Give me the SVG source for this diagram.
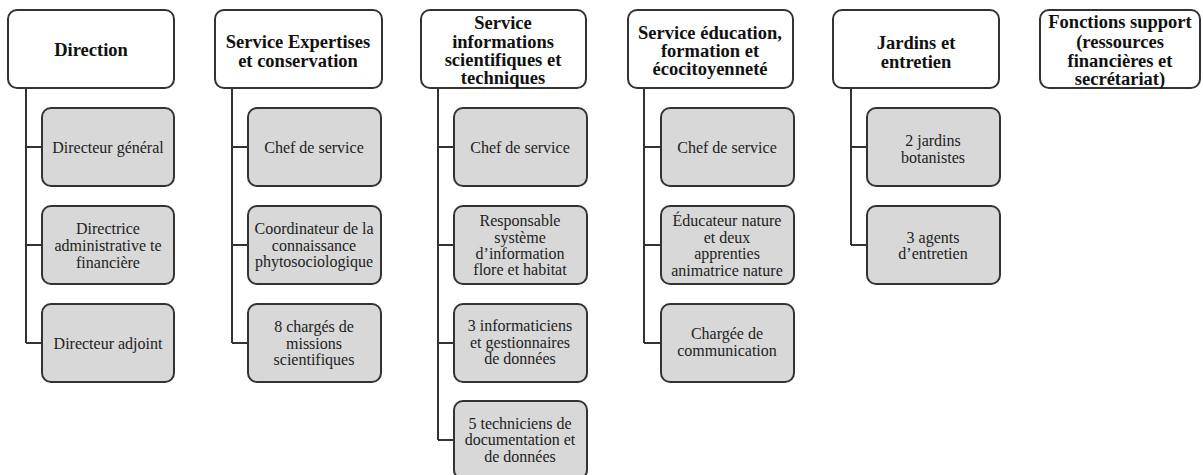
<svg xmlns="http://www.w3.org/2000/svg" width="1203" height="475" viewBox="0 0 1203 475">
<style>
.hd{fill:#fff;stroke:#333;stroke-width:2}
.ch{fill:#d8d8d8;stroke:#333;stroke-width:2}
.ht{font-family:"Liberation Serif","Times New Roman",serif;font-weight:bold;font-size:18.5px;fill:#111;text-anchor:middle}
.ct{font-family:"Liberation Serif","Times New Roman",serif;font-size:16px;fill:#222;text-anchor:middle}
.ln{fill:none;stroke:#333;stroke-width:2}
</style>
<rect width="1203" height="475" fill="#fff"/>
<g id="connectors">
<path class="ln" d="M26,89V343M26,147H42M26,245H42M26,343H42"/>
<path class="ln" d="M232,89V343M232,147H248M232,245H248M232,343H248"/>
<path class="ln" d="M438,89V440M438,147H454M438,245H454M438,343H454M438,440H454"/>
<path class="ln" d="M644,89V343M644,147H661M644,245H661M644,343H661"/>
<path class="ln" d="M851,89V245M851,147H867M851,245H867"/>
</g>
<g id="direction"><rect class="hd" x="8" y="10" width="166" height="78" rx="9"/><text class="ht" x="91" y="56">Direction</text></g>
<g id="dir-dg"><rect class="ch" x="42" y="108" width="132" height="78" rx="9"/><text class="ct" x="108" y="152.5">Directeur général</text></g>
<g id="dir-daf"><rect class="ch" x="42" y="206" width="132" height="78" rx="9"/><text class="ct" x="108" y="233.5">Directrice</text><text class="ct" x="108" y="250.5">administrative te</text><text class="ct" x="108" y="267.5">financière</text></g>
<g id="dir-adj"><rect class="ch" x="42" y="304" width="132" height="78" rx="9"/><text class="ct" x="108" y="348.5">Directeur adjoint</text></g>

<g id="expertises"><rect class="hd" x="215" y="10" width="167" height="78" rx="9"/><text class="ht" x="298" y="48">Service Expertises</text><text class="ht" x="298" y="67">et conservation</text></g>
<g id="exp-chef"><rect class="ch" x="248" y="108" width="133" height="78" rx="9"/><text class="ct" x="314" y="152.5">Chef de service</text></g>
<g id="exp-coord"><rect class="ch" x="248" y="206" width="133" height="78" rx="9"/><text class="ct" x="314" y="233.5">Coordinateur de la</text><text class="ct" x="314" y="250.5">connaissance</text><text class="ct" x="314" y="266.5">phytosociologique</text></g>
<g id="exp-missions"><rect class="ch" x="248" y="304" width="133" height="78" rx="9"/><text class="ct" x="314" y="331.5">8 chargés de</text><text class="ct" x="314" y="348.5">missions</text><text class="ct" x="314" y="364.5">scientifiques</text></g>

<g id="informations"><rect class="hd" x="421" y="10" width="165" height="78" rx="9"/><text class="ht" x="503" y="29">Service</text><text class="ht" x="503" y="47.5">informations</text><text class="ht" x="503" y="66">scientifiques et</text><text class="ht" x="503" y="84">techniques</text></g>
<g id="inf-chef"><rect class="ch" x="454" y="108" width="133" height="78" rx="9"/><text class="ct" x="520" y="152.5">Chef de service</text></g>
<g id="inf-resp"><rect class="ch" x="454" y="206" width="133" height="78" rx="9"/><text class="ct" x="520" y="225.5">Responsable</text><text class="ct" x="520" y="242.5">système</text><text class="ct" x="520" y="258.5">d’information</text><text class="ct" x="520" y="274.5">flore et habitat</text></g>
<g id="inf-info"><rect class="ch" x="454" y="304" width="133" height="78" rx="9"/><text class="ct" x="520" y="330.5">3 informaticiens</text><text class="ct" x="520" y="347.5">et gestionnaires</text><text class="ct" x="520" y="363.5">de données</text></g>
<g id="inf-tech"><rect class="ch" x="454" y="401" width="133" height="78" rx="9"/><text class="ct" x="520" y="428.5">5 techniciens de</text><text class="ct" x="520" y="444.5">documentation et</text><text class="ct" x="520" y="461.5">de données</text></g>

<g id="education"><rect class="hd" x="628" y="10" width="165" height="78" rx="9"/><text class="ht" x="710" y="39">Service éducation,</text><text class="ht" x="710" y="57">formation et</text><text class="ht" x="710" y="75">écocitoyenneté</text></g>
<g id="edu-chef"><rect class="ch" x="661" y="108" width="133" height="78" rx="9"/><text class="ct" x="727" y="152.5">Chef de service</text></g>
<g id="edu-educ"><rect class="ch" x="661" y="206" width="133" height="78" rx="9"/><text class="ct" x="727" y="225.5">Éducateur nature</text><text class="ct" x="727" y="242.5">et deux</text><text class="ct" x="727" y="258.5">apprenties</text><text class="ct" x="727" y="275.5">animatrice nature</text></g>
<g id="edu-com"><rect class="ch" x="661" y="304" width="133" height="78" rx="9"/><text class="ct" x="727" y="338.5">Chargée de</text><text class="ct" x="727" y="355.5">communication</text></g>

<g id="jardins"><rect class="hd" x="833" y="10" width="166" height="78" rx="9"/><text class="ht" x="916" y="49">Jardins et</text><text class="ht" x="916" y="68">entretien</text></g>
<g id="jar-bot"><rect class="ch" x="867" y="108" width="133" height="78" rx="9"/><text class="ct" x="933" y="145.5">2 jardins</text><text class="ct" x="933" y="162.5">botanistes</text></g>
<g id="jar-agents"><rect class="ch" x="867" y="206" width="133" height="78" rx="9"/><text class="ct" x="933" y="242.5">3 agents</text><text class="ct" x="933" y="258.5">d’entretien</text></g>

<g id="support"><rect class="hd" x="1040" y="10" width="160" height="78" rx="9"/><text class="ht" x="1120" y="28">Fonctions support</text><text class="ht" x="1120" y="48">(ressources</text><text class="ht" x="1120" y="67">financières et</text><text class="ht" x="1120" y="85">secrétariat)</text></g>
</svg>
